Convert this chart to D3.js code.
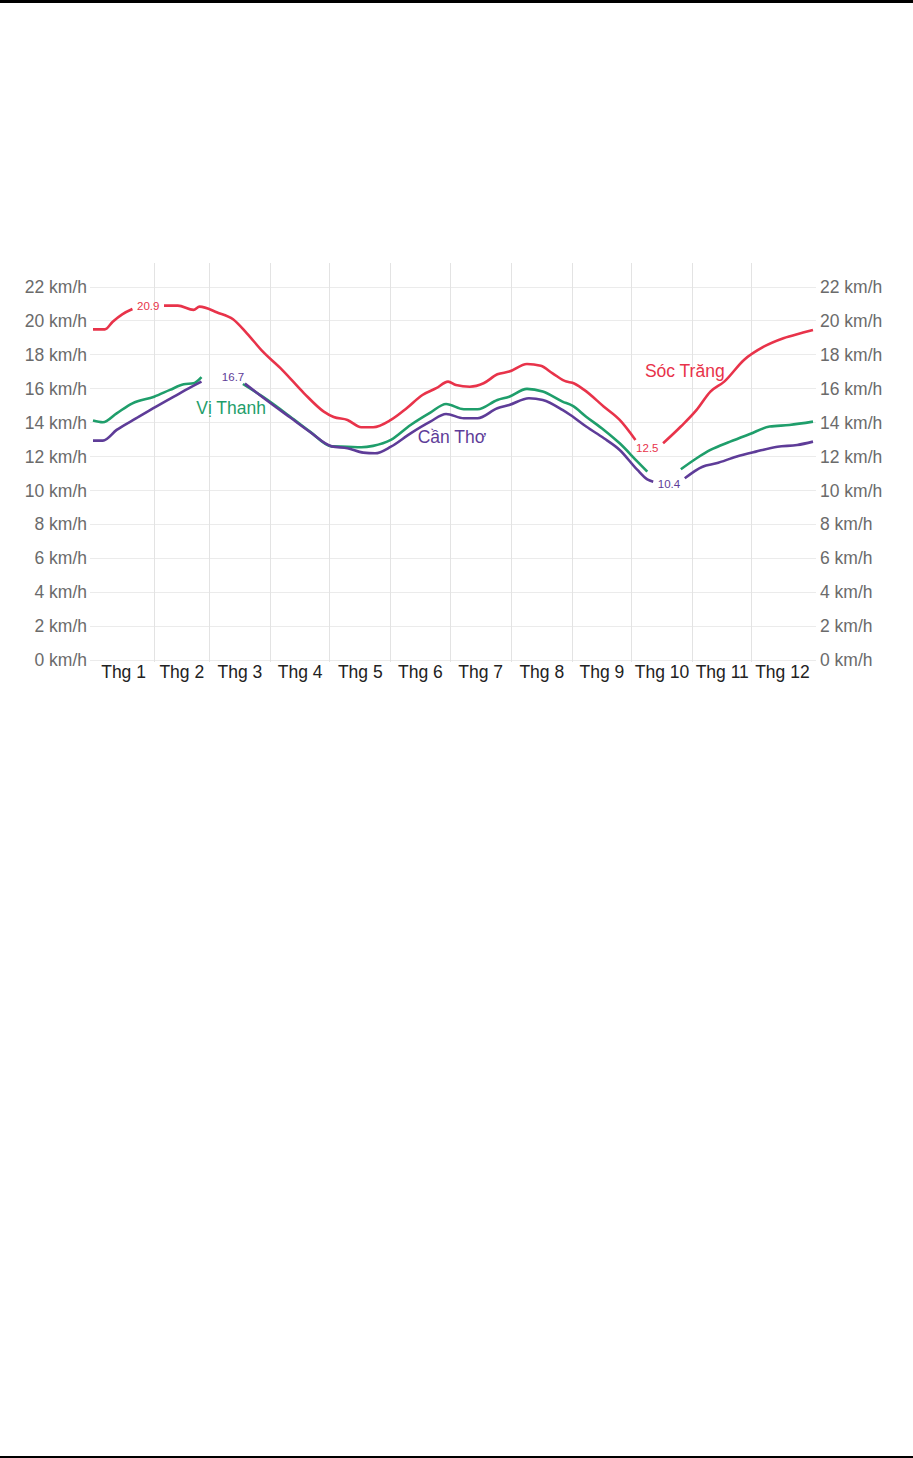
<!DOCTYPE html>
<html>
<head>
<meta charset="utf-8">
<script src="https://cdn.jsdelivr.net/npm/d3@7"></script>
<style>
  body { margin: 0; background: #fff; }
  svg { display: block; font-family: "Liberation Sans", Arial, sans-serif; }
</style>
</head>
<body>
<div id="chart"></div>
<script>
// Tốc độ gió trung bình (km/h) theo ngày trong năm, null = chỗ nhãn che đường
var socTrang = [
  [0, 19.5], [6, 19.5], [10, 19.95], [15, 20.4], [20, 20.7], null,
  [36, 20.9], [43, 20.9], [51, 20.65], [54, 20.84], [63, 20.5], [71, 20.1],
  [78, 19.27], [86, 18.2], [96, 17.1], [107, 15.73], [117, 14.65], [122, 14.33],
  [129, 14.16], [136, 13.73], [142, 13.73], [151, 14.16], [159, 14.85], [167, 15.63],
  [174, 16.03], [180, 16.42], [184, 16.22], [191, 16.12], [198, 16.32], [205, 16.85],
  [211, 17.01], [220, 17.46], [227, 17.35], [233, 16.91], [240, 16.42], [243, 16.35],
  [249, 15.93], [259, 14.94], [267, 14.16], [275, 12.98], null,
  [289, 12.78], [298, 13.77], [306, 14.75], [313, 15.83], [320, 16.42], [330, 17.7],
  [340, 18.48], [350, 18.98], [360, 19.31], [365, 19.47]
];

var viThanh = [
  [0, 14.12], [5, 14.02], [12, 14.55], [20, 15.14], [31, 15.53], [39, 15.93],
  [46, 16.26], [51, 16.32], [55, 16.68], null,
  [76, 16.28], [86, 15.53], [100, 14.35], [110, 13.47], [121, 12.6], [129, 12.58],
  [136, 12.55], [142, 12.63], [151, 12.98], [161, 13.86], [171, 14.59], [179, 15.1],
  [188, 14.79], [195, 14.79], [205, 15.34], [211, 15.53], [220, 15.99], [228, 15.83],
  [238, 15.24], [243, 15.0], [250, 14.35], [259, 13.57], [267, 12.78], [276, 11.7],
  [281, 11.11], null,
  [298, 11.25], [306, 11.9], [313, 12.39], [323, 12.88], [333, 13.33], [343, 13.77],
  [353, 13.86], [365, 14.06]
];

var canTho = [
  [0, 12.94], [5, 12.94], [12, 13.57], [22, 14.26], [32, 14.94], [41, 15.53],
  [47, 15.93], [55, 16.42], null,
  [77, 16.3], [86, 15.5], [100, 14.3], [110, 13.45], [121, 12.6], [129, 12.49],
  [137, 12.23], [143, 12.19], [151, 12.58], [161, 13.37], [171, 14.06], [179, 14.51],
  [188, 14.26], [195, 14.26], [205, 14.85], [211, 15.04], [221, 15.44], [228, 15.34],
  [238, 14.75], [242, 14.45], [250, 13.77], [259, 13.08], [267, 12.39], [276, 11.21],
  [281, 10.66], [284, 10.52], null,
  [300, 10.72], [309, 11.4], [316, 11.6], [326, 11.99], [336, 12.29], [347, 12.58],
  [357, 12.68], [365, 12.88]
];

var months = ["Thg 1", "Thg 2", "Thg 3", "Thg 4", "Thg 5", "Thg 6",
              "Thg 7", "Thg 8", "Thg 9", "Thg 10", "Thg 11", "Thg 12"];
var yTicks = [0, 2, 4, 6, 8, 10, 12, 14, 16, 18, 20, 22];

// nhãn cực trị: [ngày, giá trị, tên chuỗi]
var extremes = [
  [28, 20.9, "socTrang"], [71, 16.7, "canTho"],
  [281, 12.5, "socTrang"], [292, 10.4, "canTho"]
];
// nhãn tên: [ngày, vị trí theo km/h, tên chuỗi, chữ]
var names = [
  [300.5, 17.05, "socTrang", "Sóc Trăng"],
  [70.5, 14.87, "viThanh", "Vị Thanh"],
  [182, 13.18, "canTho", "Cần Thơ"]
];

var colors = { socTrang: "#e8334a", viThanh: "#1f9e6b", canTho: "#5e3c98" };
var series = [["socTrang", socTrang], ["viThanh", viThanh], ["canTho", canTho]];

var width = 913, height = 1458;
var plotLeft = 93, plotRight = 813, plotTop = 287, plotBottom = 660;

var year0 = new Date(2023, 0, 1), year1 = new Date(2024, 0, 1);
function dayToDate(d) { return d3.timeDay.offset(year0, d); }

var x = d3.scaleTime().domain([year0, year1]).range([plotLeft, plotRight]);
var y = d3.scaleLinear().domain([0, 22]).range([plotBottom, plotTop]);

var svg = d3.select("#chart").append("svg")
    .attr("width", width)
    .attr("height", height);

svg.append("rect")
    .attr("x", 0).attr("y", 0)
    .attr("width", width).attr("height", 3)
    .style("fill", "#000");
svg.append("rect")
    .attr("x", 0).attr("y", height - 2)
    .attr("width", width).attr("height", 2)
    .style("fill", "#000");

// lưới ngang
svg.append("g").selectAll("line")
    .data(yTicks)
    .enter().append("line")
    .attr("x1", plotLeft - 3)
    .attr("x2", plotRight + 3)
    .attr("y1", d => y(d))
    .attr("y2", d => y(d))
    .style("stroke", "#ebebeb")
    .style("stroke-width", "1px")
    .style("shape-rendering", "crispEdges");

// lưới dọc ở đầu mỗi tháng
var monthStarts = d3.timeMonth.range(year0, year1);
svg.append("g").selectAll("line")
    .data(monthStarts.slice(1))
    .enter().append("line")
    .attr("x1", d => x(d))
    .attr("x2", d => x(d))
    .attr("y1", plotTop - 24)
    .attr("y2", plotBottom + 2)
    .style("stroke", "#e3e3e3")
    .style("stroke-width", "1px")
    .style("shape-rendering", "crispEdges");

// trục y hai bên
var axisLeft = d3.axisLeft(y).tickValues(yTicks).tickSize(0).tickPadding(6)
    .tickFormat(d => d + " km/h");
var axisRight = d3.axisRight(y).tickValues(yTicks).tickSize(0).tickPadding(7)
    .tickFormat(d => d + " km/h");

[[axisLeft, plotLeft], [axisRight, plotRight]].forEach(function (a) {
    var g = svg.append("g")
        .attr("transform", "translate(" + a[1] + ",0)")
        .call(a[0]);
    g.select(".domain").remove();
    g.selectAll(".tick text")
        .style("font-family", "Liberation Sans, Arial, sans-serif")
        .style("font-size", "17.5px")
        .style("fill", "#6b6b6b");
});

// nhãn tháng
svg.append("g").selectAll("text")
    .data(months)
    .enter().append("text")
    .attr("x", (d, i) => (x(monthStarts[i]) + x(i < 11 ? monthStarts[i + 1] : year1)) / 2)
    .attr("y", plotBottom + 18)
    .attr("text-anchor", "middle")
    .style("font-size", "17.5px")
    .style("fill", "#222")
    .text(d => d);

// đường
var line = d3.line()
    .defined(d => d !== null)
    .x(d => x(dayToDate(d[0])))
    .y(d => y(d[1]))
    .curve(d3.curveMonotoneX);

series.forEach(function (s) {
    svg.append("path")
        .datum(s[1])
        .attr("d", line)
        .style("fill", "none")
        .style("stroke", colors[s[0]])
        .style("stroke-width", "2.6px")
        .style("stroke-linejoin", "round");
});

// nhãn cực trị
svg.append("g").selectAll("text")
    .data(extremes)
    .enter().append("text")
    .attr("x", d => x(dayToDate(d[0])))
    .attr("y", d => y(d[1]))
    .attr("dy", "0.35em")
    .attr("text-anchor", "middle")
    .style("font-size", "11.5px")
    .style("fill", d => colors[d[2]])
    .text(d => d[1].toFixed(1));

// tên trạm
svg.append("g").selectAll("text")
    .data(names)
    .enter().append("text")
    .attr("x", d => x(dayToDate(d[0])))
    .attr("y", d => y(d[1]))
    .attr("dy", "0.35em")
    .attr("text-anchor", "middle")
    .style("font-size", "17.5px")
    .style("fill", d => colors[d[2]])
    .text(d => d[3]);
</script>
</body>
</html>
